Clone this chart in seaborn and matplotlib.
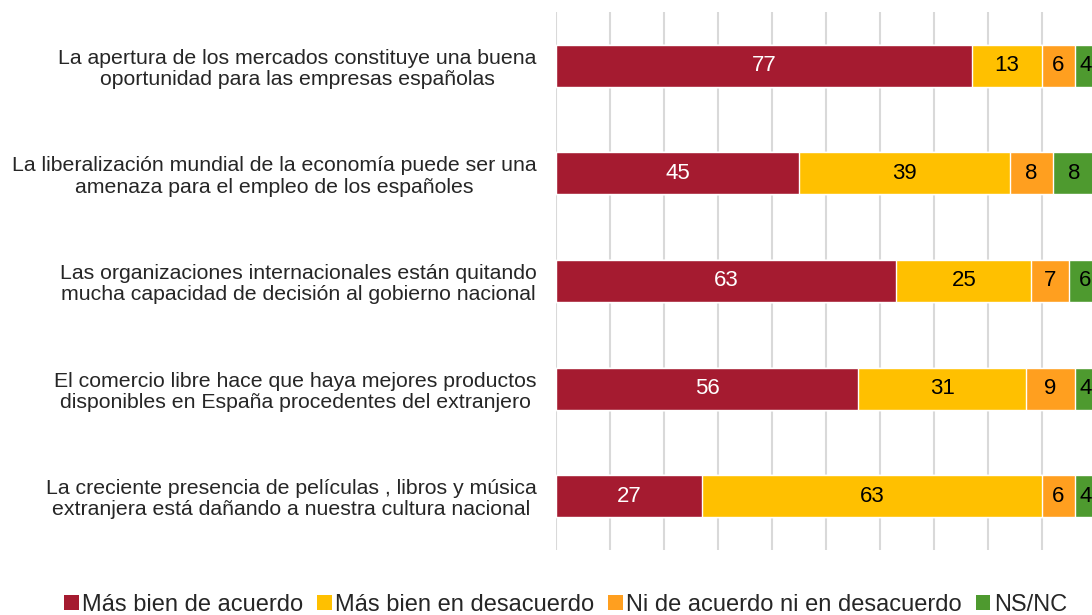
import numpy as np
import pandas as pd
import seaborn as sns
import matplotlib.pyplot as plt
from matplotlib.patches import Patch

# Datos
afirmaciones = [
    "La apertura de los mercados constituye una buena\noportunidad para las empresas españolas",
    "La liberalización mundial de la economía puede ser una\namenaza para el empleo de los españoles",
    "Las organizaciones internacionales están quitando\nmucha capacidad de decisión al gobierno nacional",
    "El comercio libre hace que haya mejores productos\ndisponibles en España procedentes del extranjero",
    "La creciente presencia de películas , libros y música\nextranjera está dañando a nuestra cultura nacional",
]
series = ["Más bien de acuerdo", "Más bien en desacuerdo",
          "Ni de acuerdo ni en desacuerdo", "NS/NC"]
acuerdo = [77, 45, 63, 56, 27]
desacuerdo = [13, 39, 25, 31, 63]
ni_ni = [6, 8, 7, 9, 6]
ns_nc = [4, 8, 6, 4, 4]
colores = ["#A51B30", "#FFC000", "#FF9F1F", "#4E9A2F"]
colores_texto = ["white", "black", "black", "black"]

valores = np.array([acuerdo, desacuerdo, ni_ni, ns_nc])
acumulado = valores.cumsum(axis=0)

sns.set_style("white")
plt.rcParams['font.family'] = ['Liberation Sans', 'DejaVu Sans']

fig = plt.figure(figsize=(10.92, 6.15), dpi=100)
ax = fig.add_axes([0.509, 0.1057, 0.4948, 0.8748])

# barras apiladas: se dibuja del acumulado mayor al menor
for i in range(len(series) - 1, -1, -1):
    df = pd.DataFrame({"afirmacion": afirmaciones, "valor": acumulado[i]})
    sns.barplot(data=df, x="valor", y="afirmacion", color=colores[i],
                width=0.39, saturation=1, orient="h", ax=ax, zorder=2)

# etiquetas de valores
for i in range(len(series)):
    for j in range(len(afirmaciones)):
        centro = acumulado[i][j] - valores[i][j] / 2
        ax.text(centro, j, str(valores[i][j]), ha="center", va="center",
                fontsize=16, color=colores_texto[i], zorder=3)

ax.set_xlim(0, 100)
ax.set_ylim(4.5, -0.5)
ax.set_xticks(np.arange(0, 101, 10))
ax.set_xticklabels([])
ax.xaxis.grid(True, color="#D9D9D9", linewidth=1.5, zorder=0)
ax.yaxis.grid(False)
ax.set_axisbelow(True)
for s in ax.spines.values():
    s.set_visible(False)
ax.tick_params(axis="both", length=0)
ax.tick_params(axis="y", pad=14)
for lab in ax.get_yticklabels():
    lab.set_multialignment("center")
    lab.set_fontsize(15.3)
    lab.set_linespacing(1.15)
ax.set_xlabel("")
ax.set_ylabel("")

handles = [Patch(facecolor=c, edgecolor="none") for c in colores]
fig.legend(handles, series, loc="center", bbox_to_anchor=(0.518, 0.016),
           ncol=4, frameon=False, fontsize=17, handlelength=0.6,
           handleheight=0.6, handletextpad=0.15, columnspacing=0.6)

plt.savefig("out.png", dpi=100)
